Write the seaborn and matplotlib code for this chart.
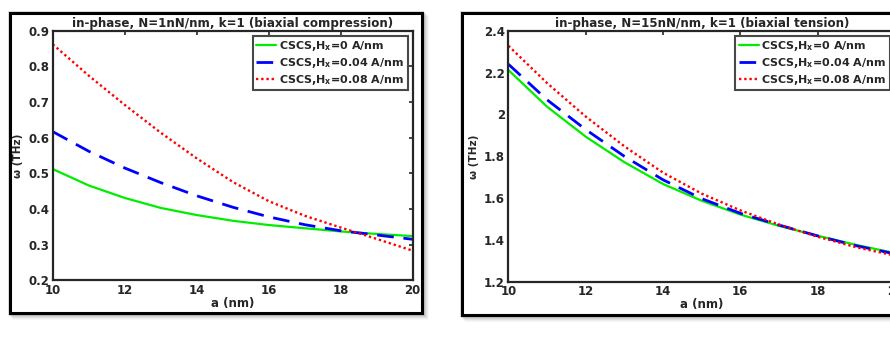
import matplotlib
matplotlib.use("Agg")
import matplotlib.pyplot as plt
import seaborn as sns
import pandas as pd
from matplotlib.patches import Rectangle
from matplotlib.ticker import FuncFormatter

# ---------------- data ----------------
a_nm = [10, 11, 12, 13, 14, 15, 16, 17, 18, 19, 20]

comp_h0 = [0.512, 0.466, 0.431, 0.403, 0.383, 0.367, 0.355, 0.346, 0.337, 0.330, 0.324]
comp_h004 = [0.617, 0.562, 0.515, 0.474, 0.437, 0.405, 0.378, 0.356, 0.339, 0.327, 0.315]
comp_h008 = [0.862, 0.774, 0.692, 0.614, 0.542, 0.476, 0.422, 0.381, 0.348, 0.316, 0.283]

tens_h0 = [2.212, 2.037, 1.894, 1.772, 1.668, 1.588, 1.522, 1.468, 1.421, 1.377, 1.338]
tens_h004 = [2.240, 2.070, 1.928, 1.800, 1.688, 1.598, 1.528, 1.472, 1.420, 1.373, 1.334]
tens_h008 = [2.328, 2.150, 1.990, 1.848, 1.722, 1.622, 1.542, 1.474, 1.416, 1.366, 1.326]

series_labels = [r"CSCS,H$_\mathbf{x}$=0 A/nm",
                 r"CSCS,H$_\mathbf{x}$=0.04 A/nm",
                 r"CSCS,H$_\mathbf{x}$=0.08 A/nm"]
titles = ["in-phase, N=1nN/nm, k=1 (biaxial compression)",
          "in-phase, N=15nN/nm, k=1 (biaxial tension)"]
x_ticks = [10, 12, 14, 16, 18, 20]
y_ticks_left = [0.2, 0.3, 0.4, 0.5, 0.6, 0.7, 0.8, 0.9]
y_ticks_right = [1.2, 1.4, 1.6, 1.8, 2.0, 2.2, 2.4]

# ---------------- style ----------------
sns.set_theme(style="white")
plt.rcParams["font.family"] = ["DejaVu Sans"]
plt.rcParams["font.weight"] = "bold"
plt.rcParams["mathtext.fontset"] = "custom"
plt.rcParams["mathtext.rm"] = "DejaVu Sans:bold"
plt.rcParams["mathtext.bf"] = "DejaVu Sans:bold"
plt.rcParams["mathtext.it"] = "DejaVu Sans:bold"

W, H = 890, 342
fig = plt.figure(figsize=(W / 100, H / 100), dpi=100)
fig.patch.set_facecolor("white")


def px_rect(x0, y0, x1, y1):
    return [x0 / W, 1 - y1 / H, (x1 - x0) / W, (y1 - y0) / H]


# outer framed boxes with soft drop shadow
for (bx0, by0, bx1, by1) in [(10, 13, 422, 313), (462, 13, 905, 315)]:
    for k, al in [(7, 0.03), (6, 0.04), (5, 0.05), (4, 0.07), (3, 0.09), (2, 0.12)]:
        r = px_rect(bx0 + k - 4, by0 + k - 4, bx1 + k, by1 + k)
        fig.patches.append(Rectangle((r[0], r[1]), r[2], r[3], transform=fig.transFigure,
                                     facecolor="black", alpha=al, edgecolor="none", zorder=0))
    r = px_rect(bx0, by0, bx1, by1)
    fig.patches.append(Rectangle((r[0], r[1]), r[2], r[3], transform=fig.transFigure,
                                 facecolor="white", edgecolor="black", lw=2.2, zorder=1))

ax1 = fig.add_axes(px_rect(52.7, 30.7, 412.7, 280.3))
ax2 = fig.add_axes(px_rect(508.4, 30.7, 895.0, 282.0))

styles = [dict(color=(0.0, 0.93, 0.0), linestyle="-", lw=1.6),
          dict(color=(0.0, 0.0, 1.0), linestyle=(0, (6, 3.5)), lw=2.0),
          dict(color=(1.0, 0.0, 0.0), linestyle=(0, (1, 1.2)), lw=1.7)]

panels = [(ax1, [comp_h0, comp_h004, comp_h008], y_ticks_left, titles[0]),
          (ax2, [tens_h0, tens_h004, tens_h008], y_ticks_right, titles[1])]

for ax, ys, yt, title in panels:
    ax.set_zorder(2)
    for vals, lab, st in zip(ys, series_labels, styles):
        df = pd.DataFrame({"a": a_nm, "w": vals})
        sns.lineplot(data=df, x="a", y="w", ax=ax, label=lab, **st)
    ax.set_xlim(10, 20)
    ax.set_ylim(yt[0], yt[-1])
    ax.set_xticks(x_ticks)
    ax.set_yticks(yt)
    ax.yaxis.set_major_formatter(FuncFormatter(lambda v, p: "%g" % round(v, 3)))
    ax.tick_params(direction="in", length=3, width=1.2, top=True, right=True,
                   labelsize=8.5, pad=2.5, colors="#262626")
    for lbl in ax.get_xticklabels() + ax.get_yticklabels():
        lbl.set_fontweight("bold")
    for s in ax.spines.values():
        s.set_color("#262626")
        s.set_linewidth(1.6)
    ax.set_xlabel("a (nm)", fontsize=8.5, fontweight="bold", labelpad=0, color="#262626")
    ax.set_ylabel("ω (THz)", fontsize=7.5, fontweight="bold", labelpad=3.5, color="#262626")
    ax.set_title(title, fontsize=8.6, fontweight="bold", pad=3, color="#262626")
    leg = ax.legend(loc="upper right", fontsize=8, frameon=True, fancybox=False,
                    handlelength=1.8, handletextpad=0.25, borderpad=0.3,
                    labelspacing=0.25, borderaxespad=0.45)
    leg.get_frame().set_edgecolor("#1a1a1a")
    leg.get_frame().set_linewidth(1.5)
    for t in leg.get_texts():
        t.set_fontweight("bold")
        t.set_color("#262626")
    ax.grid(False)

fig.savefig("out.png", dpi=100, facecolor="white")
